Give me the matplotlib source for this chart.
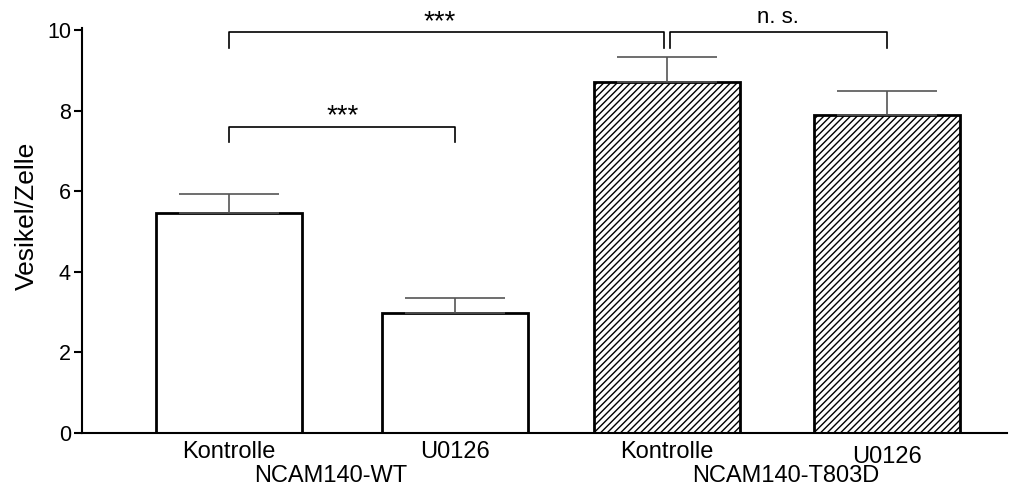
import matplotlib
matplotlib.use("Agg")
import matplotlib.pyplot as plt

plt.rcParams['font.family'] = ['Liberation Sans', 'DejaVu Sans']
plt.rcParams['hatch.linewidth'] = 1.0

categories = ["Kontrolle", "U0126", "Kontrolle", "U0126"]
groups = ["NCAM140-WT", "NCAM140-T803D"]
means = [5.47, 2.97, 8.72, 7.89]
sem = [0.45, 0.39, 0.62, 0.60]
yticks = [0, 2, 4, 6, 8, 10]

# layout (pixel-like units along x)
xpos = [229, 455, 667, 887]
group_x = [331, 786]
hatches = [None, None, "/////", "/////"]

fig = plt.figure(figsize=(10.23, 4.93), dpi=100)
ax = fig.add_axes([82/1023, 1 - 433/493, (1007-82)/1023, (433-28)/493])
ax.set_xlim(82, 1007)
ax.set_ylim(0, 10.05)

for x, m, e, h in zip(xpos, means, sem, hatches):
    ax.bar(x, m, width=146, color="white", edgecolor="black", linewidth=2,
           hatch=h, zorder=2)
    ax.errorbar(x, m, yerr=[[0], [e]], fmt="none", ecolor="#555555",
                elinewidth=1.2, capsize=36, capthick=1.2, zorder=3)

# significance brackets
def bracket(x1, x2, ytop, yleg, label, lx, dy, fs):
    ax.plot([x1, x1, x2, x2], [yleg, ytop, ytop, yleg], color="black",
            linewidth=1.2, clip_on=False, zorder=4)
    ax.text(lx, ytop + dy, label, ha="center", va="bottom", fontsize=fs,
            clip_on=False)

bracket(xpos[0], xpos[1], 7.6, 7.23, "***", 343, -0.07, 20)
bracket(xpos[0], xpos[2] - 3, 9.94, 9.56, "***", 440, -0.07, 20)
bracket(xpos[2] + 3, xpos[3], 9.94, 9.56, "n. s.", 778, 0.1, 16)

ax.spines["top"].set_visible(False)
ax.spines["right"].set_visible(False)
ax.spines["left"].set_linewidth(1.5)
ax.spines["bottom"].set_linewidth(1.5)
ax.set_yticks(yticks)
ax.set_yticklabels([str(t) for t in yticks], fontsize=15.5)
ax.tick_params(axis="y", length=6, width=1.5, pad=2)
ax.set_xticks([])
ax.set_ylabel("Vesikel/Zelle", fontsize=19)
ax.yaxis.set_label_coords(-0.047, 0.535)

label_y = [-0.2, -0.2, -0.2, -0.33]
for x, c, ly in zip(xpos, categories, label_y):
    ax.text(x, ly, c, ha="center", va="top", fontsize=17, clip_on=False)
for gx, g in zip(group_x, groups):
    ax.text(gx, -0.8, g, ha="center", va="top", fontsize=17, clip_on=False)

fig.savefig("out.png", dpi=100)
